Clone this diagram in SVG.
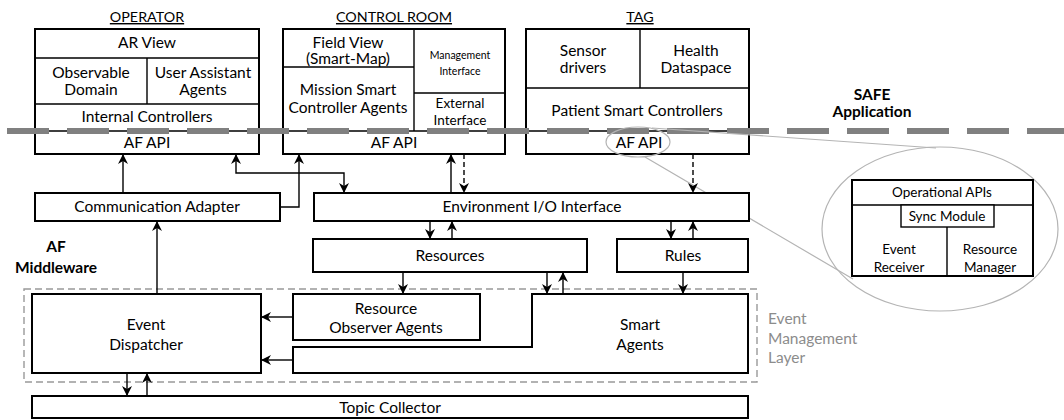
<svg xmlns="http://www.w3.org/2000/svg" width="1064" height="420" viewBox="0 0 1064 420">
  <style>
    text { font-family: Lato, "Liberation Sans", sans-serif; font-size: 15.5px; fill: #000; text-anchor: middle; }
    .box { fill: #fff; stroke: #000; stroke-width: 2; }
    .div { fill: none; stroke: #000; stroke-width: 1.4; }
    .title { text-decoration: underline; font-size: 14.3px; }
    .bold { font-weight: bold; }
    .small { font-size: 10.5px; }
    .mid { font-size: 13.5px; }
    .layer { fill: #8c8c8c; text-anchor: start; }
    .conn { fill: none; stroke: #000; stroke-width: 1.4; }
    .dash { stroke-dasharray: 5 3; }
    .zoomline { fill: none; stroke: #b4b4b4; stroke-width: 1.2; }
  </style>
  <defs>
    <marker id="arrow" viewBox="0 0 10 10" refX="10" refY="5" markerWidth="10" markerHeight="10" markerUnits="userSpaceOnUse" orient="auto-start-reverse">
      <path d="M0,0 L10,5 L0,10 L3,5 z" fill="#000"/>
    </marker>
  </defs>
  <rect width="1064" height="420" fill="#fff"/>

  <!-- Operator -->
  <g id="operator">
    <text x="147" y="22" class="title">OPERATOR</text>
    <rect class="box" x="35" y="29" width="224" height="125"/>
    <path class="div" d="M35,58 H259 M35,104 H259 M147,58 V104 M35,131 H259"/>
    <text x="147" y="48">AR View</text>
    <text x="91" y="78">Observable</text>
    <text x="91" y="95">Domain</text>
    <text x="203" y="78">User Assistant</text>
    <text x="203" y="95">Agents</text>
    <text x="147" y="122">Internal Controllers</text>
    <text x="147" y="148">AF API</text>
  </g>

  <!-- Control room -->
  <g id="control-room">
    <text x="394" y="22" class="title">CONTROL ROOM</text>
    <rect class="box" x="283" y="29" width="222" height="125"/>
    <path class="div" d="M283,67 H414 M414,29 V131 M414,93 H505 M283,131 H505"/>
    <text x="348" y="48">Field View</text>
    <text x="348" y="64">(Smart-Map)</text>
    <text x="348" y="95">Mission Smart</text>
    <text x="348" y="113">Controller Agents</text>
    <text x="460" y="59" class="small">Management</text>
    <text x="460" y="75" class="small">Interface</text>
    <text x="460" y="108" class="mid">External</text>
    <text x="460" y="125" class="mid">Interface</text>
    <text x="394" y="148">AF API</text>
  </g>

  <!-- Tag -->
  <g id="tag">
    <text x="640" y="22" class="title">TAG</text>
    <rect class="box" x="526" y="29" width="223" height="125"/>
    <path class="div" d="M640,29 V88 M526,88 H749 M526,131 H749"/>
    <text x="583" y="56">Sensor</text>
    <text x="583" y="73">drivers</text>
    <text x="696" y="56">Health</text>
    <text x="696" y="73">Dataspace</text>
    <text x="637" y="116">Patient Smart Controllers</text>
    <text x="639" y="148">AF API</text>
  </g>

  <!-- Application boundary -->
  <g id="safe-application">
    <text x="872" y="100" class="bold">SAFE</text>
    <text x="872" y="117" class="bold">Application</text>
    <line x1="0" y1="131" x2="1064" y2="131" stroke="#808080" stroke-width="6" stroke-dasharray="42 18" stroke-dashoffset="53"/>
  </g>

  <!-- Detail callout of the AF API -->
  <g id="af-api-detail">
    <ellipse cx="638" cy="142" rx="32" ry="15" class="zoomline"/>
    <path class="zoomline" d="M652,128 L936,148 M645,157 L853,279"/>
    <ellipse cx="940" cy="229" rx="118" ry="82" fill="#fff" class="zoomline"/>
    <rect class="box" x="852" y="180" width="181" height="96" stroke-width="1.6"/>
    <path class="div" d="M852,205 H1033 M947,227 V276"/>
    <rect x="901" y="205" width="93" height="22" fill="#fff" stroke="#000" stroke-width="1.4"/>
    <text x="942" y="197" class="mid">Operational APIs</text>
    <text x="947" y="221" class="mid">Sync Module</text>
    <text x="899" y="254" class="mid">Event</text>
    <text x="899" y="272" class="mid">Receiver</text>
    <text x="990" y="254" class="mid">Resource</text>
    <text x="990" y="272" class="mid">Manager</text>
  </g>

  <!-- Middleware -->
  <g id="af-middleware">
    <text x="56" y="252" class="bold">AF</text>
    <text x="56" y="273" class="bold">Middleware</text>
  </g>

  <g id="communication-adapter">
    <rect class="box" x="35" y="193" width="245" height="28"/>
    <text x="157" y="212">Communication Adapter</text>
  </g>

  <g id="environment-io">
    <rect class="box" x="314" y="193" width="435" height="28"/>
    <text x="532" y="212">Environment I/O Interface</text>
  </g>

  <g id="resources">
    <rect class="box" x="313" y="239" width="274" height="33"/>
    <text x="450" y="261">Resources</text>
  </g>

  <g id="rules">
    <rect class="box" x="617" y="239" width="131" height="33"/>
    <text x="683" y="261">Rules</text>
  </g>

  <!-- Event management layer -->
  <g id="event-management-layer">
    <rect x="24" y="289" width="733" height="93" fill="none" stroke="#999" stroke-width="1.4" stroke-dasharray="7 4"/>
    <text x="768" y="324" class="layer">Event</text>
    <text x="768" y="344" class="layer">Management</text>
    <text x="768" y="363" class="layer">Layer</text>
  </g>

  <g id="event-dispatcher">
    <rect class="box" x="32" y="294" width="229" height="79"/>
    <text x="146" y="330">Event</text>
    <text x="146" y="350">Dispatcher</text>
  </g>

  <g id="resource-observer-agents">
    <rect class="box" x="293" y="294" width="187" height="46"/>
    <text x="386" y="314">Resource</text>
    <text x="386" y="333">Observer Agents</text>
  </g>

  <g id="smart-agents">
    <path class="box" d="M532,294 H748 V373 H293 V347 H532 Z"/>
    <text x="640" y="330">Smart</text>
    <text x="640" y="350">Agents</text>
  </g>

  <g id="topic-collector">
    <rect class="box" x="32" y="396" width="716" height="22"/>
    <text x="390" y="413">Topic Collector</text>
  </g>

  <!-- Connectors -->
  <g id="connectors">
    <path class="conn" d="M123,193 V154" marker-end="url(#arrow)"/>
    <path class="conn" d="M236,154 V173 H344 V193" marker-start="url(#arrow)" marker-end="url(#arrow)"/>
    <path class="conn" d="M280,207 H299 V154" marker-end="url(#arrow)"/>
    <path class="conn" d="M451,193 V154" marker-end="url(#arrow)"/>
    <path class="conn dash" d="M464,154 V193" marker-end="url(#arrow)"/>
    <path class="conn dash" d="M693,154 V193" marker-end="url(#arrow)"/>
    <path class="conn" d="M430,221 V239" marker-end="url(#arrow)"/>
    <path class="conn" d="M452,239 V221" marker-end="url(#arrow)"/>
    <path class="conn" d="M671,221 V239" marker-end="url(#arrow)"/>
    <path class="conn" d="M693,239 V221" marker-end="url(#arrow)"/>
    <path class="conn" d="M403,272 V294" marker-end="url(#arrow)"/>
    <path class="conn" d="M547,272 V294" marker-end="url(#arrow)"/>
    <path class="conn" d="M563,294 V272" marker-end="url(#arrow)"/>
    <path class="conn" d="M683,272 V294" marker-end="url(#arrow)"/>
    <path class="conn" d="M293,317 H261" marker-end="url(#arrow)"/>
    <path class="conn" d="M293,360 H261" marker-end="url(#arrow)"/>
    <path class="conn" d="M157,294 V221" marker-end="url(#arrow)"/>
    <path class="conn" d="M127,373 V396" marker-end="url(#arrow)"/>
    <path class="conn" d="M147,396 V373" marker-end="url(#arrow)"/>
  </g>
</svg>
